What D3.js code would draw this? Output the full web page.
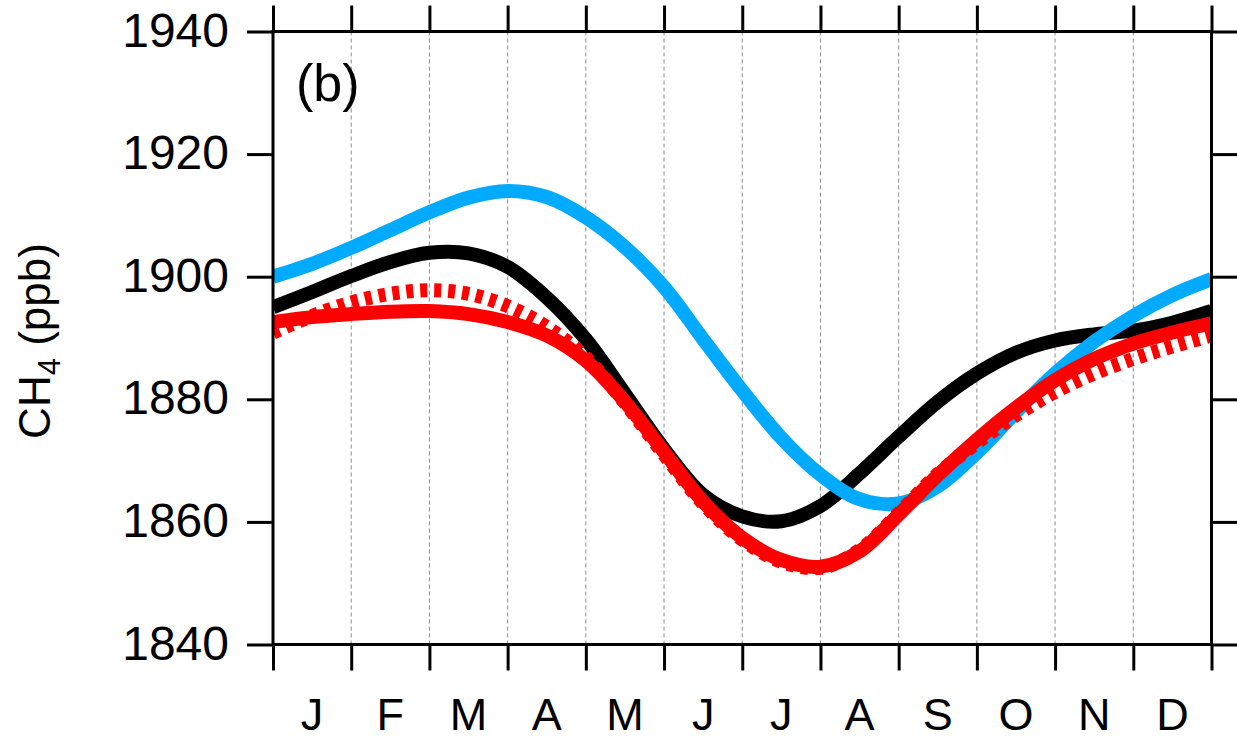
<!DOCTYPE html>
<html>
<head>
<meta charset="utf-8">
<script src="https://cdn.jsdelivr.net/npm/d3@7"></script>
<style>
  html, body { margin: 0; padding: 0; background: #fff; }
  svg { display: block; font-family: "Liberation Sans", Arial, Helvetica, sans-serif; }
</style>
</head>
<body>
<svg id="chart" width="1237" height="741"></svg>
<script>
// Month labels, centred in each month
const months = ["J", "F", "M", "A", "M", "J", "J", "A", "S", "O", "N", "D"];
// Sample positions in months since 1 January
const samplePos = [0, 0.5, 1, 1.5, 2, 2.5, 3, 3.5, 4, 4.5, 5, 5.5, 6,
                   6.5, 7, 7.5, 8, 8.5, 9, 9.5, 10, 10.5, 11, 11.5, 12];
// Seasonal CH4 cycles (ppb)
const blackSeries = [1895.0, 1897.5, 1900.1, 1902.4, 1903.9, 1903.8, 1901.6, 1896.6, 1889.8,
                     1880.9, 1871.9, 1864.4, 1860.9, 1860.1, 1862.6, 1867.9, 1873.9, 1879.6,
                     1884.2, 1887.6, 1889.6, 1890.6, 1891.2, 1892.5, 1894.4];
const blueSeries = [1900.0, 1902.1, 1904.7, 1907.6, 1910.5, 1912.9, 1914.0, 1913.0, 1909.7,
                    1904.8, 1898.3, 1889.8, 1881.4, 1873.7, 1867.7, 1863.7, 1863.0, 1865.8,
                    1871.3, 1877.9, 1884.2, 1889.4, 1893.6, 1897.0, 1899.6];
const redSeries = [1892.6, 1893.4, 1893.9, 1894.3, 1894.4, 1893.9, 1892.6, 1890.4, 1886.3,
                   1879.6, 1871.4, 1863.3, 1857.4, 1853.8, 1852.7, 1855.2, 1861.2, 1867.6,
                   1873.4, 1878.6, 1883.1, 1886.6, 1889.1, 1890.9, 1892.4];
const redDottedSeries = [1890.9, 1893.6, 1895.8, 1897.2, 1897.8, 1897.2, 1895.2, 1891.8, 1886.8,
                         1879.4, 1871.0, 1863.0, 1857.1, 1853.5, 1852.5, 1855.4, 1861.4, 1867.8,
                         1872.9, 1877.4, 1881.2, 1884.2, 1886.6, 1888.6, 1890.4];
const yTicks = [1840, 1860, 1880, 1900, 1920, 1940];
const monthEdges = d3.range(0, 13);

const svg = d3.select("#chart");
const plotLeft = 273, plotRight = 1211.5, plotTop = 31.5, plotBottom = 644.5;
const tickLen = 26;

const x = d3.scaleLinear().domain([0, 12]).range([plotLeft, plotRight]);
const y = d3.scaleLinear().domain([1840, 1940]).range([plotBottom, plotTop]);

// Dashed month separators
svg.append("g")
  .selectAll("line")
  .data(monthEdges.slice(1, 12))
  .join("line")
  .attr("x1", d => x(d)).attr("x2", d => x(d))
  .attr("y1", plotTop).attr("y2", plotBottom)
  .attr("stroke", "#8c8c8c")
  .attr("stroke-width", 1)
  .attr("stroke-dasharray", "4,3");

// Clip marks that stick past the frame
svg.append("defs").append("clipPath").attr("id", "frameClip")
  .append("rect").attr("x", plotLeft).attr("y", plotTop)
  .attr("width", plotRight - plotLeft).attr("height", plotBottom - plotTop);

// Curves
const line = vals => d3.line()
  .x((d, i) => x(samplePos[i]))
  .y(d => y(d))
  .curve(d3.curveCatmullRom.alpha(0.5))(vals);

const curves = svg.append("g").attr("fill", "none").attr("stroke-width", 14)
  .attr("clip-path", "url(#frameClip)");
curves.append("path").attr("d", line(blackSeries)).attr("stroke", "#000");
curves.append("path").attr("d", line(blueSeries)).attr("stroke", "#00aaff");
curves.append("path").attr("d", line(redDottedSeries)).attr("stroke", "#ff0000")
  .attr("stroke-dasharray", "7,7");
curves.append("path").attr("d", line(redSeries)).attr("stroke", "#ff0000");

// Axes: ticks outward on all four sides
const axisStyle = g => {
  g.select(".domain").remove();
  g.selectAll(".tick line").attr("stroke", "#000").attr("stroke-width", 3);
  g.selectAll(".tick text").remove();
};
svg.append("g").attr("transform", `translate(0,${plotBottom})`)
  .call(d3.axisBottom(x).tickValues(monthEdges).tickSize(tickLen)).call(axisStyle);
svg.append("g").attr("transform", `translate(0,${plotTop})`)
  .call(d3.axisTop(x).tickValues(monthEdges).tickSize(tickLen)).call(axisStyle);
svg.append("g").attr("transform", `translate(${plotLeft},0)`)
  .call(d3.axisLeft(y).tickValues(yTicks).tickSize(tickLen)).call(axisStyle);
svg.append("g").attr("transform", `translate(${plotRight},0)`)
  .call(d3.axisRight(y).tickValues(yTicks).tickSize(tickLen)).call(axisStyle);

// Frame
svg.append("rect")
  .attr("x", plotLeft).attr("y", plotTop)
  .attr("width", plotRight - plotLeft).attr("height", plotBottom - plotTop)
  .attr("fill", "none").attr("stroke", "#000").attr("stroke-width", 3);

// Y tick labels
svg.append("g")
  .selectAll("text")
  .data(yTicks)
  .join("text")
  .attr("x", 229)
  .attr("y", d => y(d) + 15)
  .attr("text-anchor", "end")
  .attr("font-size", 48)
  .attr("fill", "#000")
  .text(d => d);

// Month labels
svg.append("g")
  .selectAll("text")
  .data(months)
  .join("text")
  .attr("x", (d, i) => x(i + 0.5))
  .attr("y", 730)
  .attr("text-anchor", "middle")
  .attr("font-size", 45)
  .attr("fill", "#000")
  .text(d => d);

// Panel tag
svg.append("text")
  .attr("x", 296).attr("y", 101)
  .attr("font-size", 52)
  .attr("fill", "#000")
  .text("(b)");

// Y axis title
const yTitle = svg.append("text")
  .attr("transform", "translate(50,341) rotate(-90)")
  .attr("text-anchor", "middle")
  .attr("font-size", 44)
  .attr("fill", "#000");
yTitle.append("tspan").text("CH");
yTitle.append("tspan").attr("font-size", 31).attr("dy", 10).text("4");
yTitle.append("tspan").attr("dy", -10).text(" (ppb)");
</script>
</body>
</html>
